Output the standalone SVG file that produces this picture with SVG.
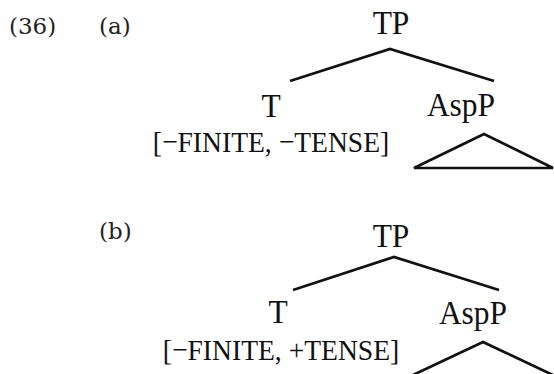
<svg xmlns="http://www.w3.org/2000/svg" width="554" height="374" viewBox="0 0 554 374">
<style>
  .ex { font-family: "DejaVu Serif", "Liberation Serif", serif; font-size: 23px; fill: #222; }
  .lab { font-family: "Liberation Serif", "Times New Roman", serif; font-size: 31.5px; fill: #111; text-anchor: middle; }
  .feat { font-family: "Liberation Serif", "Times New Roman", serif; font-size: 27.6px; fill: #111; text-anchor: middle; }
  .edge { stroke: #111; stroke-width: 2.7; fill: none; stroke-linecap: butt; }
</style>
<rect width="554" height="374" fill="#fff"/>
<g id="labels">
  <text class="ex" x="9" y="34">(36)</text>
  <text class="ex" x="99" y="34">(a)</text>
  <text class="ex" x="99" y="239">(b)</text>
</g>
<g id="a-TP"><text class="lab" transform="translate(391,34) scale(1,1.06)">TP</text></g>
<g id="a-T">
  <text class="lab" transform="translate(271,117) scale(1,1.06)">T</text>
  <text class="feat" transform="translate(271,152) scale(1,1.1)">[−FINITE, −TENSE]</text>
</g>
<g id="a-AspP"><text class="lab" transform="translate(461,116) scale(1,1.06)">AspP</text></g>
<g id="b-TP"><text class="lab" transform="translate(391,247) scale(1,1.06)">TP</text></g>
<g id="b-T">
  <text class="lab" transform="translate(278,323) scale(1,1.06)">T</text>
  <text class="feat" transform="translate(281,360) scale(1,1.1)">[−FINITE, +TENSE]</text>
</g>
<g id="b-AspP"><text class="lab" transform="translate(473,324) scale(1,1.06)">AspP</text></g>
<g id="connectors">
  <polyline class="edge" points="290,81 390,49 494,81"/>
  <polygon class="edge" points="484,134 414,168 553,168"/>
  <polyline class="edge" points="293,290 394,257 499,290"/>
  <polyline class="edge" points="413,375 483,342 555,376"/>
</g>
</svg>
